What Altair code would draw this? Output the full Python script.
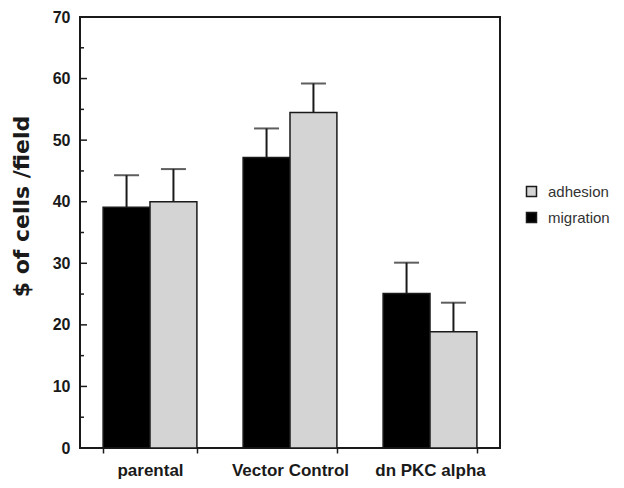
import altair as alt
import pandas as pd

groups = ["parental", "Vector Control", "dn PKC alpha"]
migration = [39.1, 47.2, 25.1]
migration_err = [5.2, 4.7, 5.0]
adhesion = [40.0, 54.5, 18.9]
adhesion_err = [5.3, 4.7, 4.7]
series = ["migration", "adhesion"]
major_ticks = [0, 10, 20, 30, 40, 50, 60, 70]
minor_ticks = [5, 15, 25, 35, 45, 55, 65]

rows = []
for i, g in enumerate(groups):
    rows.append({"group": g, "series": "migration", "value": migration[i],
                 "top": migration[i] + migration_err[i]})
    rows.append({"group": g, "series": "adhesion", "value": adhesion[i],
                 "top": adhesion[i] + adhesion_err[i]})
df = pd.DataFrame(rows)

major_df = pd.DataFrame({"v": major_ticks[1:-1]})
minor_df = pd.DataFrame({"v": minor_ticks})

FONT = "Liberation Sans"
INK = "#1a1a1a"

xscale = alt.Scale(domain=groups, paddingInner=0.33, paddingOuter=0.165)
yscale = alt.Scale(domain=[0, 70], nice=False, zero=True)
xoff = alt.XOffset("series:N", scale=alt.Scale(domain=series, paddingInner=0, paddingOuter=0))

x_enc = alt.X("group:N", scale=xscale, sort=groups,
              axis=alt.Axis(title=None, labelAngle=0, labelFont=FONT, labelFontSize=17,
                            labelFontWeight="bold", labelColor=INK, labelPadding=9,
                            tickBand="extent", tickSize=5, tickColor=INK, tickWidth=1.5,
                            domain=False))

bars = alt.Chart(df).mark_bar(stroke=INK, strokeWidth=1.5).encode(
    x=x_enc,
    xOffset=xoff,
    y=alt.Y("value:Q", scale=yscale,
            axis=alt.Axis(title="$ of cells /field", values=major_ticks, ticks=False,
                          domain=False, grid=False, labelFont=FONT, labelFontSize=16,
                          labelFontWeight="bold", labelColor=INK, labelPadding=10,
                          titleFont="DejaVu Sans", titleFontSize=22, titleFontWeight="bold",
                          titleColor=INK, titleX=-47, titleY=189, titleAngle=270,
                          titleAlign="center", titleBaseline="bottom")),
    color=alt.Color("series:N",
                    scale=alt.Scale(domain=["adhesion", "migration"], range=["#d4d4d4", "#000000"]),
                    legend=alt.Legend(title=None, orient="none", legendX=444, legendY=167,
                                      symbolType="square", symbolSize=100, symbolStrokeColor=INK,
                                      symbolStrokeWidth=1.5, labelFont=FONT, labelFontSize=15,
                                      labelColor="#333", rowPadding=9, labelOffset=9)),
)

rules = alt.Chart(df).mark_rule(color=INK, strokeWidth=2).encode(
    x=alt.X("group:N", scale=xscale, sort=groups),
    xOffset=xoff,
    y=alt.Y("value:Q", scale=yscale),
    y2="top:Q",
)

caps = alt.Chart(df).mark_tick(color=INK, thickness=2, size=25).encode(
    x=alt.X("group:N", scale=xscale, sort=groups),
    xOffset=xoff,
    y=alt.Y("top:Q", scale=yscale),
)

major_t = alt.Chart(major_df).mark_rule(color=INK, strokeWidth=1.5).encode(
    x=alt.value(0), x2=alt.value(7),
    y=alt.Y("v:Q", scale=yscale),
)
minor_t = alt.Chart(minor_df).mark_rule(color=INK, strokeWidth=1.5).encode(
    x=alt.value(0), x2=alt.value(4),
    y=alt.Y("v:Q", scale=yscale),
)

chart = alt.layer(bars, rules, caps, major_t, minor_t).properties(
    width=420, height=431,
    autosize=alt.AutoSizeParams(type="none"),
    padding={"left": 72, "top": 9, "right": 116, "bottom": 32},
).configure(background="white").configure_view(stroke=INK, strokeWidth=2)

chart.save("out.html", embed_options={"renderer": "svg", "actions": False})
